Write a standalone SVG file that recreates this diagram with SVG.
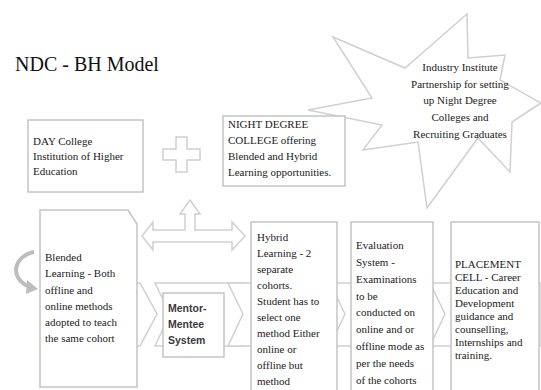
<svg xmlns="http://www.w3.org/2000/svg" width="541" height="390" viewBox="0 0 541 390">
<style>
.box{fill:#fff;stroke:#c4c4c4;stroke-width:1.5}
.bg{fill:#fff;stroke:#d0d0d0;stroke-width:1.5}
.t{font-family:"Liberation Serif","Times New Roman",serif;font-size:11px;fill:#1a1a1a}
.m{font-family:"Liberation Sans",Arial,sans-serif;font-size:10.5px;font-weight:bold;fill:#3a3a3a}
</style>
<rect width="541" height="390" fill="#fff"/>
<text x="15" y="71" font-family="Liberation Serif,Times New Roman,serif" font-size="20" fill="#111">NDC - BH Model</text>

<g id="star">
<polygon class="bg" points="308,110 372,98 333,37 405,68 467,14 468,58 505,55 500,80 541,103 512,122 510,172 478,138 427,208 418,142 363,150 382,125"/>
<text class="t" text-anchor="middle"><tspan x="460" y="71">Industry Institute</tspan><tspan x="460" y="88">Partnership for setting</tspan><tspan x="460" y="104">up Night Degree</tspan><tspan x="460" y="121">Colleges and</tspan><tspan x="460" y="138">Recruiting Graduates</tspan></text>
</g>

<g id="day">
<rect class="box" x="28" y="120" width="115" height="72"/>
<text class="t"><tspan x="33" y="145">DAY College</tspan><tspan x="33" y="160">Institution of Higher</tspan><tspan x="33" y="175">Education</tspan></text>
</g>

<g id="plus">
<polygon class="bg" points="176,137 187,137 187,149 200,149 200,160 187,160 187,172 176,172 176,160 163,160 163,149 176,149"/>
</g>

<g id="night">
<rect class="box" x="223" y="116" width="122" height="70"/>
<text class="t"><tspan x="228" y="128">NIGHT DEGREE</tspan><tspan x="228" y="144">COLLEGE offering</tspan><tspan x="228" y="160">Blended and Hybrid</tspan><tspan x="228" y="176">Learning opportunities.</tspan></text>
</g>

<g id="connectors">
<polygon class="bg" points="155,283 245,283 262,314 245,346 155,346 170,314"/>
<polygon class="bg" points="120,283 140,283 157,314 140,346 120,346"/>
<polygon class="bg" points="228,283 335,283 352,314 335,346 228,346 243,314"/>
<polygon class="bg" points="330,283 433,283 450,314 433,346 330,346 345,314"/>
<polygon class="bg" points="430,283 541,283 541,346 430,346 445,314"/>
<polygon class="bg" points="190,200 200,214 195,214 195,230 232,230 232,222 245,236 232,250 232,242 153,242 153,250 142,236 153,222 153,230 185,230 185,214 180,214"/>
<path d="M34,252 C14,256 8,278 30,287" fill="none" stroke="#bdbdbd" stroke-width="4"/>
<polygon points="27,280 38,289 26,294" fill="#bdbdbd"/>
</g>

<g id="blended">
<polygon class="box" points="40,210 128,210 137,224 137,387 40,387"/>
<text class="t"><tspan x="45" y="261">Blended</tspan><tspan x="45" y="277">Learning - Both</tspan><tspan x="45" y="294">offline and</tspan><tspan x="45" y="310">online methods</tspan><tspan x="45" y="326">adopted to teach</tspan><tspan x="45" y="342">the same cohort</tspan></text>
</g>

<g id="mentor">
<rect class="box" x="163" y="293" width="61" height="64"/>
<text class="m"><tspan x="168" y="312">Mentor-</tspan><tspan x="168" y="328">Mentee</tspan><tspan x="168" y="344">System</tspan></text>
</g>

<g id="hybrid">
<rect class="box" x="251" y="222" width="86" height="172"/>
<text class="t"><tspan x="257" y="241">Hybrid</tspan><tspan x="257" y="257">Learning - 2</tspan><tspan x="257" y="273">separate</tspan><tspan x="257" y="289">cohorts.</tspan><tspan x="257" y="305">Student has to</tspan><tspan x="257" y="321">select one</tspan><tspan x="257" y="337">method Either</tspan><tspan x="257" y="353">online or</tspan><tspan x="257" y="369">offline but</tspan><tspan x="257" y="385">method</tspan></text>
</g>

<g id="evaluation">
<rect class="box" x="351" y="222" width="82" height="172"/>
<text class="t"><tspan x="356" y="249">Evaluation</tspan><tspan x="356" y="266">System -</tspan><tspan x="356" y="283">Examinations</tspan><tspan x="356" y="300">to be</tspan><tspan x="356" y="316">conducted on</tspan><tspan x="356" y="333">online and or</tspan><tspan x="356" y="350">offline mode as</tspan><tspan x="356" y="367">per the needs</tspan><tspan x="356" y="384">of the cohorts</tspan></text>
</g>

<g id="placement">
<rect class="box" x="451" y="222" width="88" height="172"/>
<text class="t"><tspan x="455" y="268">PLACEMENT</tspan><tspan x="455" y="281">CELL - Career</tspan><tspan x="455" y="294">Education and</tspan><tspan x="455" y="307">Development</tspan><tspan x="455" y="320">guidance and</tspan><tspan x="455" y="333">counselling,</tspan><tspan x="455" y="346">Internships and</tspan><tspan x="455" y="359">training.</tspan></text>
</g>
</svg>
